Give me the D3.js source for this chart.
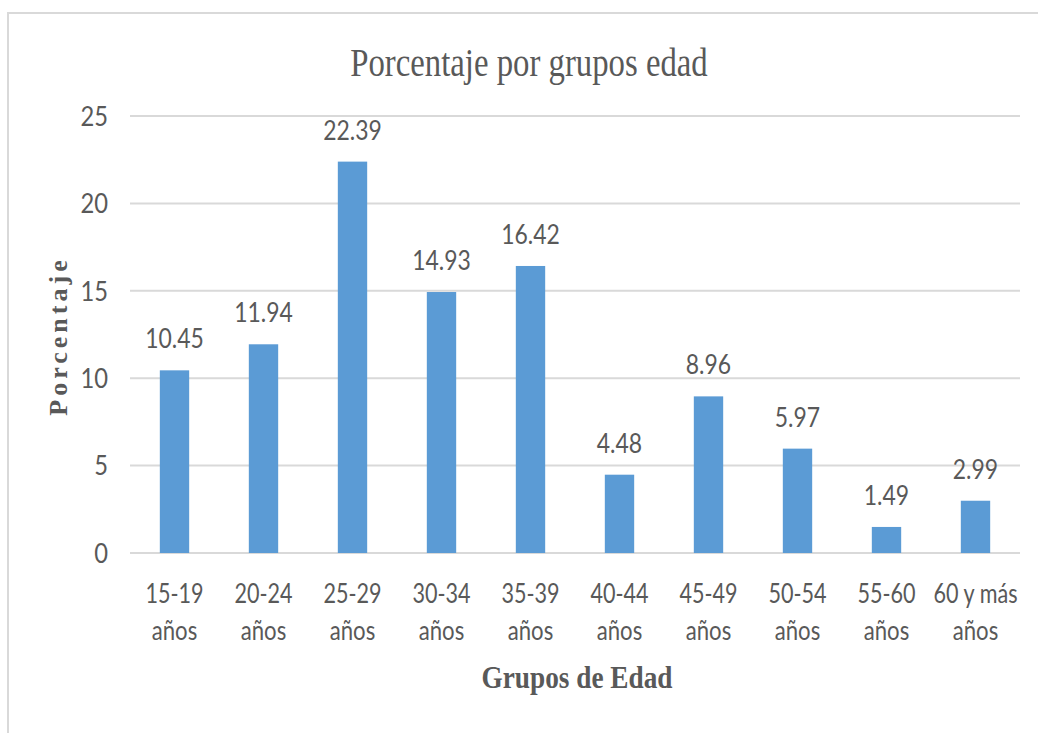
<!DOCTYPE html>
<html>
<head>
<meta charset="utf-8">
<script src="https://cdn.jsdelivr.net/npm/d3@7"></script>
<style>
  body { margin: 0; background: #fff; }
  svg { display: block; }
</style>
</head>
<body>
<div id="chart"></div>
<script>
// values
var grupos = ['15-19 años', '20-24 años', '25-29 años', '30-34 años', '35-39 años',
  '40-44 años', '45-49 años', '50-54 años', '55-60 años', '60 y más años']
var lineaUno = ['15-19', '20-24', '25-29', '30-34', '35-39', '40-44', '45-49', '50-54', '55-60', '60 y más']
var lineaDos = ['años', 'años', 'años', 'años', 'años', 'años', 'años', 'años', 'años', 'años']
var porcentajes = [10.45, 11.94, 22.39, 14.93, 16.42, 4.48, 8.96, 5.97, 1.49, 2.99]
var yTicks = [0, 5, 10, 15, 20, 25]

var width = 1038
var height = 733
var margin = { top: 116, right: 18, bottom: 180, left: 130 }
var gray = '#595959'
var sans = 'Lato, "Open Sans", sans-serif'
var serif = '"Liberation Serif", "DejaVu Serif", serif'

var svg = d3.select('#chart').append('svg')
  .attr('width', width)
  .attr('height', height)

// frame of the chart area (only top and left edges show)
svg.append('rect')
  .attr('x', 8).attr('y', 13)
  .attr('width', width + 20).attr('height', height + 20)
  .attr('fill', 'none')
  .attr('stroke', '#d9d9d9')
  .attr('stroke-width', 2)

var x = d3.scaleBand()
  .domain(grupos)
  .range([margin.left, width - margin.right])
  .paddingInner(0.67)
  .paddingOuter(0.335)

var y = d3.scaleLinear()
  .domain([0, 25])
  .range([height - margin.bottom, margin.top])

// squeeze text horizontally, the reference looks condensed
function squeeze (sel, k, adjust) {
  sel.each(function () {
    var len = this.getComputedTextLength()
    d3.select(this)
      .attr('textLength', len * k)
      .attr('lengthAdjust', adjust || 'spacingAndGlyphs')
  })
}

// gridlines
svg.append('g')
  .selectAll('line')
  .data(yTicks)
  .enter().append('line')
  .attr('x1', margin.left)
  .attr('x2', width - margin.right)
  .attr('y1', function (d) { return y(d) })
  .attr('y2', function (d) { return y(d) })
  .attr('stroke', '#d9d9d9')
  .attr('stroke-width', 2)

// y tick labels
svg.append('g')
  .selectAll('text')
  .data(yTicks)
  .enter().append('text')
  .attr('x', 108)
  .attr('y', function (d) { return y(d) })
  .attr('dy', '0.36em')
  .attr('text-anchor', 'end')
  .attr('font-family', sans)
  .attr('font-size', 27)
  .attr('fill', gray)
  .text(function (d) { return d })
  .call(squeeze, 0.88)

// bars
svg.append('g')
  .selectAll('rect')
  .data(porcentajes)
  .enter().append('rect')
  .attr('x', function (d, i) { return x(grupos[i]) })
  .attr('y', function (d) { return y(d) })
  .attr('width', x.bandwidth())
  .attr('height', function (d) { return y(0) - y(d) })
  .attr('fill', '#5b9bd5')

// value labels
svg.append('g')
  .selectAll('text')
  .data(porcentajes)
  .enter().append('text')
  .attr('x', function (d, i) { return x(grupos[i]) + x.bandwidth() / 2 })
  .attr('y', function (d) { return y(d) - 22 })
  .attr('text-anchor', 'middle')
  .attr('font-family', sans)
  .attr('font-size', 27)
  .attr('fill', gray)
  .text(function (d) { return d.toFixed(2) })
  .call(squeeze, 0.85)

// category labels, two lines
var cat = svg.append('g')
  .selectAll('g')
  .data(grupos)
  .enter().append('g')
  .attr('transform', function (d) { return 'translate(' + (x(d) + x.bandwidth() / 2) + ',0)' })

cat.append('text')
  .attr('y', 603)
  .attr('text-anchor', 'middle')
  .attr('font-family', sans)
  .attr('font-size', 27)
  .attr('fill', gray)
  .text(function (d, i) { return lineaUno[i] })
  .call(squeeze, 0.8)

cat.append('text')
  .attr('y', 640)
  .attr('text-anchor', 'middle')
  .attr('font-family', sans)
  .attr('font-size', 27)
  .attr('fill', gray)
  .text(function (d, i) { return lineaDos[i] })
  .call(squeeze, 0.82)

// title
svg.append('text')
  .attr('x', 529)
  .attr('y', 76)
  .attr('text-anchor', 'middle')
  .attr('font-family', serif)
  .attr('font-size', 39)
  .attr('fill', gray)
  .text('Porcentaje por grupos edad')
  .call(squeeze, 0.84)

// axis titles
svg.append('text')
  .attr('transform', 'translate(67,336) rotate(-90)')
  .attr('text-anchor', 'middle')
  .attr('font-family', serif)
  .attr('font-size', 26)
  .attr('font-weight', 'bold')
  .attr('letter-spacing', 4)
  .attr('fill', gray)
  .text('Porcentaje')

svg.append('text')
  .attr('x', 577)
  .attr('y', 688)
  .attr('text-anchor', 'middle')
  .attr('font-family', serif)
  .attr('font-size', 31)
  .attr('font-weight', 'bold')
  .attr('fill', gray)
  .text('Grupos de Edad')
  .call(squeeze, 0.88)
</script>
</body>
</html>
